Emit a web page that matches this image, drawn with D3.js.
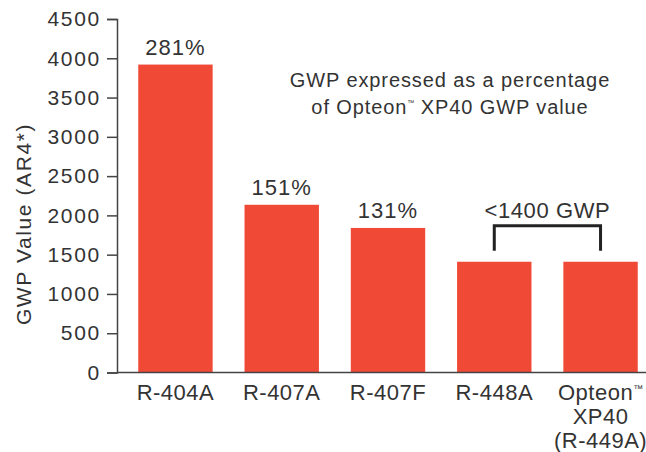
<!DOCTYPE html>
<html>
<head>
<meta charset="utf-8">
<script src="https://cdn.jsdelivr.net/npm/d3@7"></script>
<style>
  body { margin: 0; background: #fff; }
  text { font-family: "Liberation Sans", Arial, sans-serif; fill: #333; }
</style>
</head>
<body>
<div id="chart"></div>
<script>
var categories = [["R-404A"], ["R-407A"], ["R-407F"], ["R-448A"], ["Opteon\u2122", "XP40", "(R-449A)"]];
var values = [3920, 2135, 1840, 1410, 1410];
var pctLabels = ["281%", "151%", "131%", "", ""];
var yTicks = [0, 500, 1000, 1500, 2000, 2500, 3000, 3500, 4000, 4500];
var bracketLabel = "<1400 GWP";
var bracketBars = [3, 4];
var noteLines = ["GWP expressed as a percentage", "of Opteon\u2122 XP40 GWP value"];
var yTitle = "GWP Value (AR4*)";

var width = 646;
var height = 452;
var barColor = "#f04a37";
var axisColor = "#444";

var svg = d3.select("#chart").append("svg")
  .attr("width", width)
  .attr("height", height);

var x = d3.scaleBand()
  .domain(d3.range(categories.length))
  .range([117, 659])
  .paddingInner(0.3)
  .paddingOuter(0.2);

var y = d3.scaleLinear()
  .domain([0, 4500])
  .range([372.5, 19]);

// writes a string into a tspan, with the trademark sign drawn small and raised
function withTm(sel, str, tmSize, lift) {
  var parts = str.split("\u2122");
  parts.forEach(function(p, k) {
    if (k > 0) {
      sel.append("tspan")
        .attr("font-size", tmSize)
        .attr("dy", -lift)
        .attr("letter-spacing", "0px")
        .text("\u2122");
      if (p.length) sel.append("tspan").attr("dy", lift).text(p);
    } else if (p.length) {
      sel.append("tspan").text(p);
    }
  });
}

// bars
svg.selectAll("rect.bar")
  .data(values)
  .enter()
  .append("rect")
  .attr("class", "bar")
  .attr("x", function(d, i) { return x(i); })
  .attr("y", function(d) { return y(d); })
  .attr("width", x.bandwidth())
  .attr("height", function(d) { return y(0) - y(d); })
  .attr("fill", barColor);

// y axis
var yAxis = svg.append("g")
  .attr("transform", "translate(117,0)")
  .call(d3.axisLeft(y).tickValues(yTicks).tickSize(10).tickPadding(6).tickFormat(d3.format("d")));

yAxis.select(".domain").attr("stroke", axisColor).attr("stroke-width", 1.5);
yAxis.selectAll(".tick line").attr("stroke", axisColor).attr("stroke-width", 1.5);
yAxis.selectAll(".tick text")
  .attr("font-size", "21px")
  .attr("letter-spacing", "1.7px")
  .attr("fill", "#333")
  .style("font-family", "'Liberation Sans', Arial, sans-serif");

// baseline
svg.append("line")
  .attr("x1", 117)
  .attr("x2", 646)
  .attr("y1", y(0))
  .attr("y2", y(0))
  .attr("stroke", axisColor)
  .attr("stroke-width", 1.5);

// category labels
svg.selectAll("text.cat")
  .data(categories)
  .enter()
  .append("text")
  .attr("class", "cat")
  .attr("text-anchor", "middle")
  .attr("font-size", "22px")
  .attr("letter-spacing", "0.5px")
  .each(function(d, i) {
    var t = d3.select(this);
    d.forEach(function(line, j) {
      var ts = t.append("tspan")
        .attr("x", x(i) + x.bandwidth() / 2)
        .attr("y", 400 + j * 24);
      withTm(ts, line, "10px", 8);
    });
  });

// percentage labels
svg.selectAll("text.pct")
  .data(values)
  .enter()
  .append("text")
  .attr("class", "pct")
  .attr("x", function(d, i) { return x(i) + x.bandwidth() / 2; })
  .attr("y", function(d) { return y(d) - 10; })
  .attr("text-anchor", "middle")
  .attr("font-size", "22px")
  .attr("letter-spacing", "1px")
  .text(function(d, i) { return pctLabels[i]; });

// note
svg.append("text")
  .attr("text-anchor", "middle")
  .attr("font-size", "20px")
  .attr("letter-spacing", "0.9px")
  .selectAll("tspan.line")
  .data(noteLines)
  .enter()
  .append("tspan")
  .attr("class", "line")
  .attr("x", 450)
  .attr("y", function(d, i) { return 87 + i * 27; })
  .each(function(d) { withTm(d3.select(this), d, "7px", 9); });

// bracket over the two lowest bars
var bx1 = x(bracketBars[0]) + x.bandwidth() / 2;
var bx2 = x(bracketBars[1]) + x.bandwidth() / 2;
var bTop = y(values[bracketBars[0]]) - 36;
svg.append("path")
  .attr("d", "M" + bx1 + "," + (bTop + 25) + "V" + bTop + "H" + bx2 + "V" + (bTop + 25))
  .attr("fill", "none")
  .attr("stroke", "#222")
  .attr("stroke-width", 3);

svg.append("text")
  .attr("x", (bx1 + bx2) / 2)
  .attr("y", bTop - 8)
  .attr("text-anchor", "middle")
  .attr("font-size", "22px")
  .attr("letter-spacing", "0.6px")
  .text(bracketLabel);

// y title
svg.append("text")
  .attr("transform", "translate(31,224) rotate(-90)")
  .attr("text-anchor", "middle")
  .attr("font-size", "21px")
  .attr("letter-spacing", "1.6px")
  .text(yTitle);
</script>
</body>
</html>
